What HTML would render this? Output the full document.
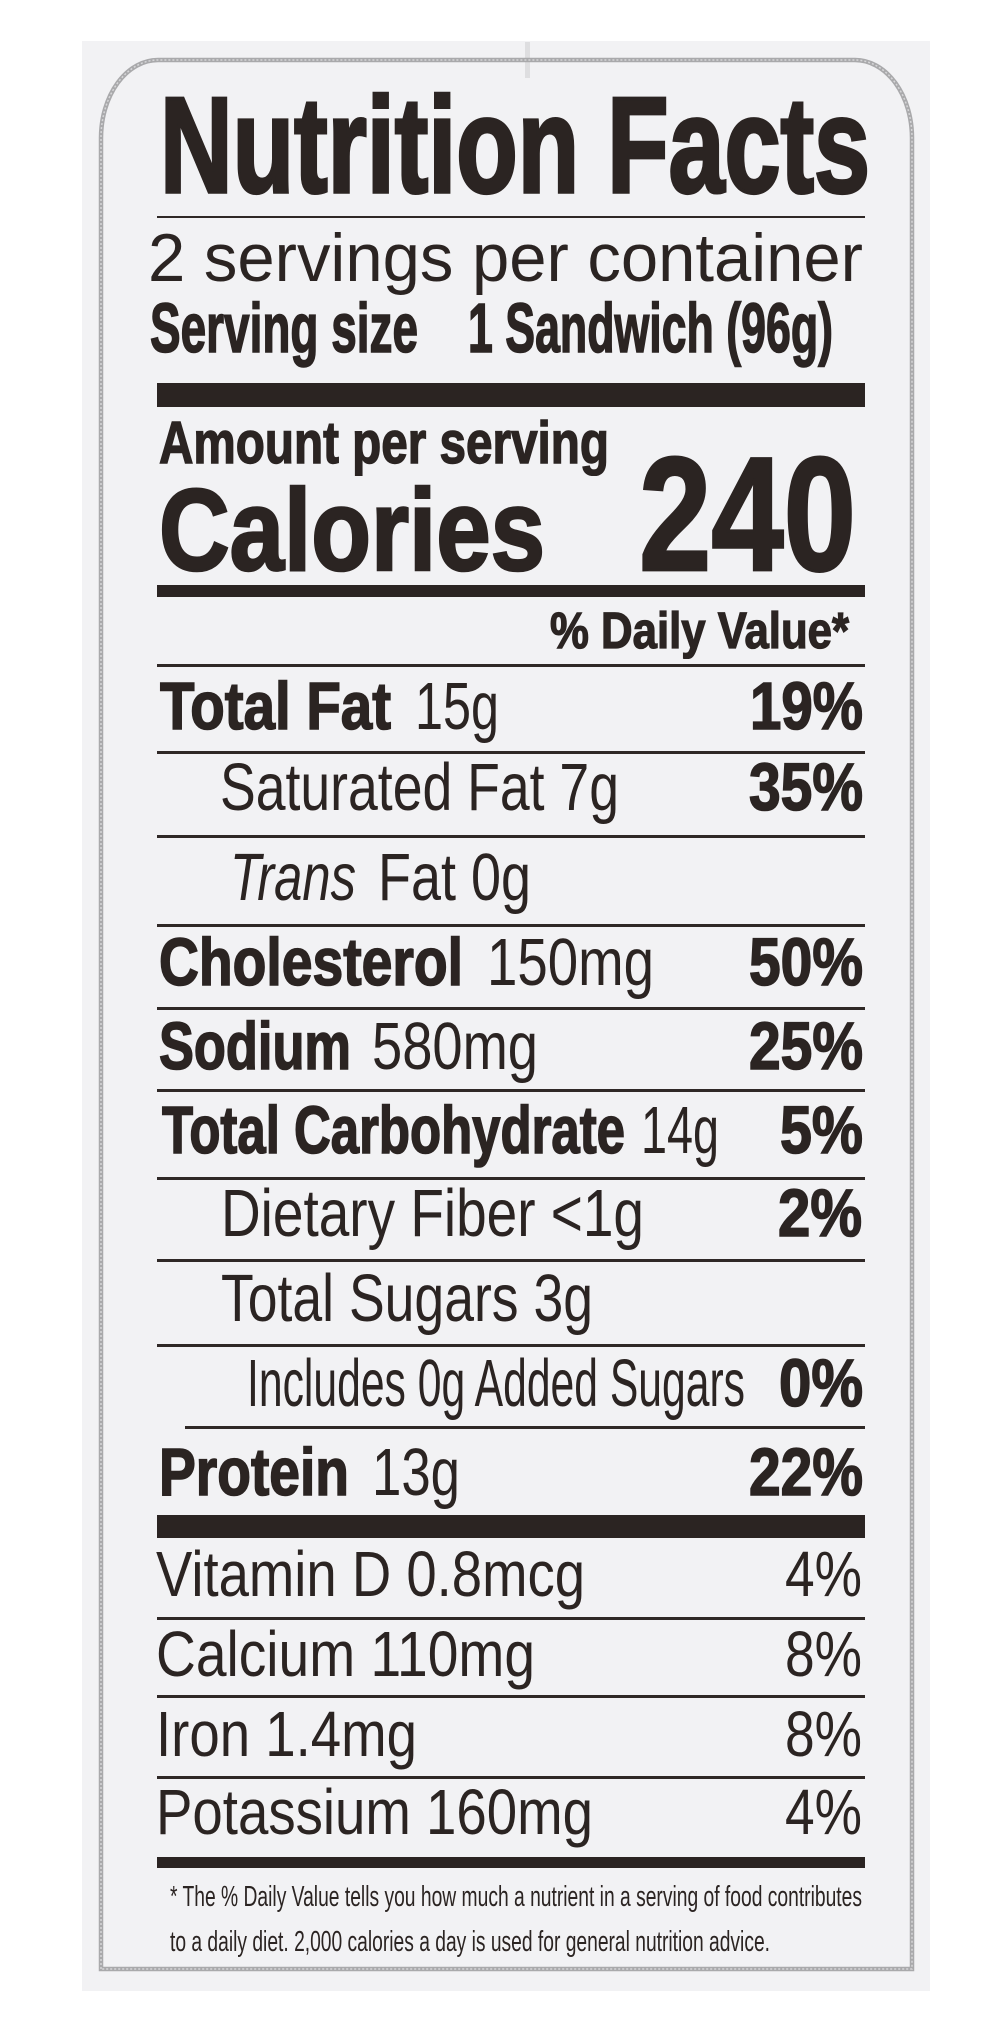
<!DOCTYPE html>
<html>
<head>
<meta charset="utf-8">
<style>
  html,body{margin:0;padding:0;background:#ffffff;}
  body{width:1000px;height:2030px;position:relative;overflow:hidden;}
  .panel{position:absolute;left:82px;top:41px;width:848px;height:1950px;background:#f2f2f4;}
  .t{position:absolute;white-space:nowrap;line-height:1;color:#2b2422;
     font-family:"Liberation Sans",Arial,sans-serif;transform-origin:0 0;}
  .b{font-weight:bold;-webkit-text-stroke:1.6px #2b2422;}
  .r{font-weight:normal;}
  .i{font-style:italic;}
  .ln{position:absolute;left:157px;width:708px;height:3px;background:#2f2826;}
  .bar{position:absolute;left:157px;width:708px;background:#2b2422;}
</style>
</head>
<body>
<div class="panel"></div>
<!-- faint mark at top -->
<div style="position:absolute;left:525px;top:42px;width:5px;height:36px;background:#dedee0;"></div>

<svg width="1000" height="2030" style="position:absolute;left:0;top:0" xmlns="http://www.w3.org/2000/svg">
  <path d="M101,1969 V138 A57,78 0 0 1 158,60 H855 A57,78 0 0 1 912,138 V1969 Z"
        fill="none" stroke="#a9a9ab" stroke-width="4.5"/>
  <path d="M101,1969 V138 A57,78 0 0 1 158,60 H855 A57,78 0 0 1 912,138 V1969 Z"
        fill="none" stroke="#d6d6d8" stroke-width="1.5" stroke-dasharray="2 2"/>
</svg>

<!-- Title -->
<span class="t b" style="left:160px;top:77px;font-size:136px;-webkit-text-stroke:3.5px #2b2422;--w:710">Nutrition Facts</span>
<div class="ln" style="top:216px;height:2px;"></div>

<span class="t r" style="left:148px;top:224.4px;font-size:68px;--w:715">2 servings per container</span>
<span class="t b" style="left:150px;top:294.1px;font-size:69.6px;--w:268">Serving size</span>
<span class="t b" style="left:468px;top:294.1px;font-size:69.6px;--w:365">1 Sandwich (96g)</span>

<div class="bar" style="top:383px;height:24px;"></div>

<span class="t b" style="left:159px;top:412.7px;font-size:59.4px;-webkit-text-stroke:1.4px #2b2422;--w:450">Amount per serving</span>
<span class="t b" style="left:159px;top:471.8px;font-size:116px;-webkit-text-stroke:2.6px #2b2422;--w:386">Calories</span>
<span class="t b" style="left:639px;top:433.9px;font-size:162px;-webkit-text-stroke:2.8px #2b2422;--w:217">240</span>

<div class="bar" style="top:585px;height:12px;"></div>

<span class="t b" style="left:550px;top:606.1px;font-size:50.7px;-webkit-text-stroke:1.3px #2b2422;--w:299">% Daily Value*</span>

<div class="ln" style="top:664px;"></div>

<!-- Total Fat -->
<span class="t b" style="left:160px;top:673.6px;font-size:66.7px;--w:231">Total Fat</span>
<span class="t r" style="left:415px;top:673.6px;font-size:66.7px;--w:84">15g</span>
<span class="t b" style="left:750px;top:673.6px;font-size:66.7px;--w:113">19%</span>
<div class="ln" style="top:751px;"></div>

<!-- Saturated -->
<span class="t r" style="left:220px;top:754.6px;font-size:66.7px;--w:399">Saturated Fat 7g</span>
<span class="t b" style="left:749px;top:754.6px;font-size:66.7px;--w:114">35%</span>
<div class="ln" style="top:835px;"></div>

<!-- Trans -->
<span class="t r i" style="left:230px;top:844.6px;font-size:66.7px;--w:126">Trans</span>
<span class="t r" style="left:378px;top:844.6px;font-size:66.7px;--w:153">Fat 0g</span>
<div class="ln" style="top:924px;"></div>

<!-- Cholesterol -->
<span class="t b" style="left:159px;top:929.6px;font-size:66.7px;--w:304">Cholesterol</span>
<span class="t r" style="left:487px;top:929.6px;font-size:66.7px;--w:167">150mg</span>
<span class="t b" style="left:749px;top:929.6px;font-size:66.7px;--w:114">50%</span>
<div class="ln" style="top:1007px;"></div>

<!-- Sodium -->
<span class="t b" style="left:159px;top:1013.6px;font-size:66.7px;--w:192">Sodium</span>
<span class="t r" style="left:372px;top:1013.6px;font-size:66.7px;--w:166">580mg</span>
<span class="t b" style="left:749px;top:1013.6px;font-size:66.7px;--w:114">25%</span>
<div class="ln" style="top:1089px;"></div>

<!-- Total Carbohydrate -->
<span class="t b" style="left:162px;top:1097.6px;font-size:66.7px;--w:463">Total Carbohydrate</span>
<span class="t r" style="left:641px;top:1097.6px;font-size:66.7px;--w:78">14g</span>
<span class="t b" style="left:780px;top:1097.6px;font-size:66.7px;--w:83">5%</span>
<div class="ln" style="top:1177px;"></div>

<!-- Dietary Fiber -->
<span class="t r" style="left:221px;top:1180.6px;font-size:66.7px;--w:423">Dietary Fiber &lt;1g</span>
<span class="t b" style="left:778px;top:1180.6px;font-size:66.7px;--w:84">2%</span>
<div class="ln" style="top:1259px;"></div>

<!-- Total Sugars -->
<span class="t r" style="left:221px;top:1265.6px;font-size:66.7px;--w:372">Total Sugars 3g</span>
<div class="ln" style="top:1344px;"></div>

<!-- Includes -->
<span class="t r" style="left:247px;top:1350.6px;font-size:66.7px;--w:498">Includes 0g Added Sugars</span>
<span class="t b" style="left:779px;top:1350.6px;font-size:66.7px;--w:84">0%</span>
<div class="ln" style="top:1426px;left:185px;width:680px;"></div>

<!-- Protein -->
<span class="t b" style="left:159px;top:1439.6px;font-size:66.7px;--w:190">Protein</span>
<span class="t r" style="left:372px;top:1439.6px;font-size:66.7px;--w:88">13g</span>
<span class="t b" style="left:749px;top:1439.6px;font-size:66.7px;--w:114">22%</span>

<div class="bar" style="top:1515px;height:23px;"></div>

<!-- Vitamins -->
<span class="t r" style="left:156px;top:1543px;font-size:63.8px;--w:429">Vitamin D 0.8mcg</span>
<span class="t r" style="left:785px;top:1543px;font-size:63.8px;--w:77">4%</span>
<div class="ln" style="top:1617px;"></div>

<span class="t r" style="left:156px;top:1623px;font-size:63.8px;--w:379">Calcium 110mg</span>
<span class="t r" style="left:785px;top:1623px;font-size:63.8px;--w:77">8%</span>
<div class="ln" style="top:1695px;"></div>

<span class="t r" style="left:156px;top:1703px;font-size:63.8px;--w:261">Iron 1.4mg</span>
<span class="t r" style="left:785px;top:1703px;font-size:63.8px;--w:77">8%</span>
<div class="ln" style="top:1776px;"></div>

<span class="t r" style="left:156px;top:1781px;font-size:63.8px;--w:437">Potassium 160mg</span>
<span class="t r" style="left:785px;top:1781px;font-size:63.8px;--w:77">4%</span>

<div class="bar" style="top:1857px;height:11px;"></div>

<!-- Footnote -->
<span class="t r" style="left:170px;top:1882.5px;font-size:29px;--w:692">* The % Daily Value tells you how much a nutrient in a serving of food contributes</span>
<span class="t r" style="left:170px;top:1927.5px;font-size:29px;--w:600">to a daily diet. 2,000 calories a day is used for general nutrition advice.</span>

<script>
(function(){
  var els=document.querySelectorAll('.t');
  for(var k=0;k<els.length;k++){
    var el=els[k];
    var w=parseFloat(getComputedStyle(el).getPropertyValue('--w'));
    var nat=el.getBoundingClientRect().width;
    if(w&&nat){el.style.transform='scaleX('+(w/nat)+')';}
  }
})();
</script>
</body>
</html>
